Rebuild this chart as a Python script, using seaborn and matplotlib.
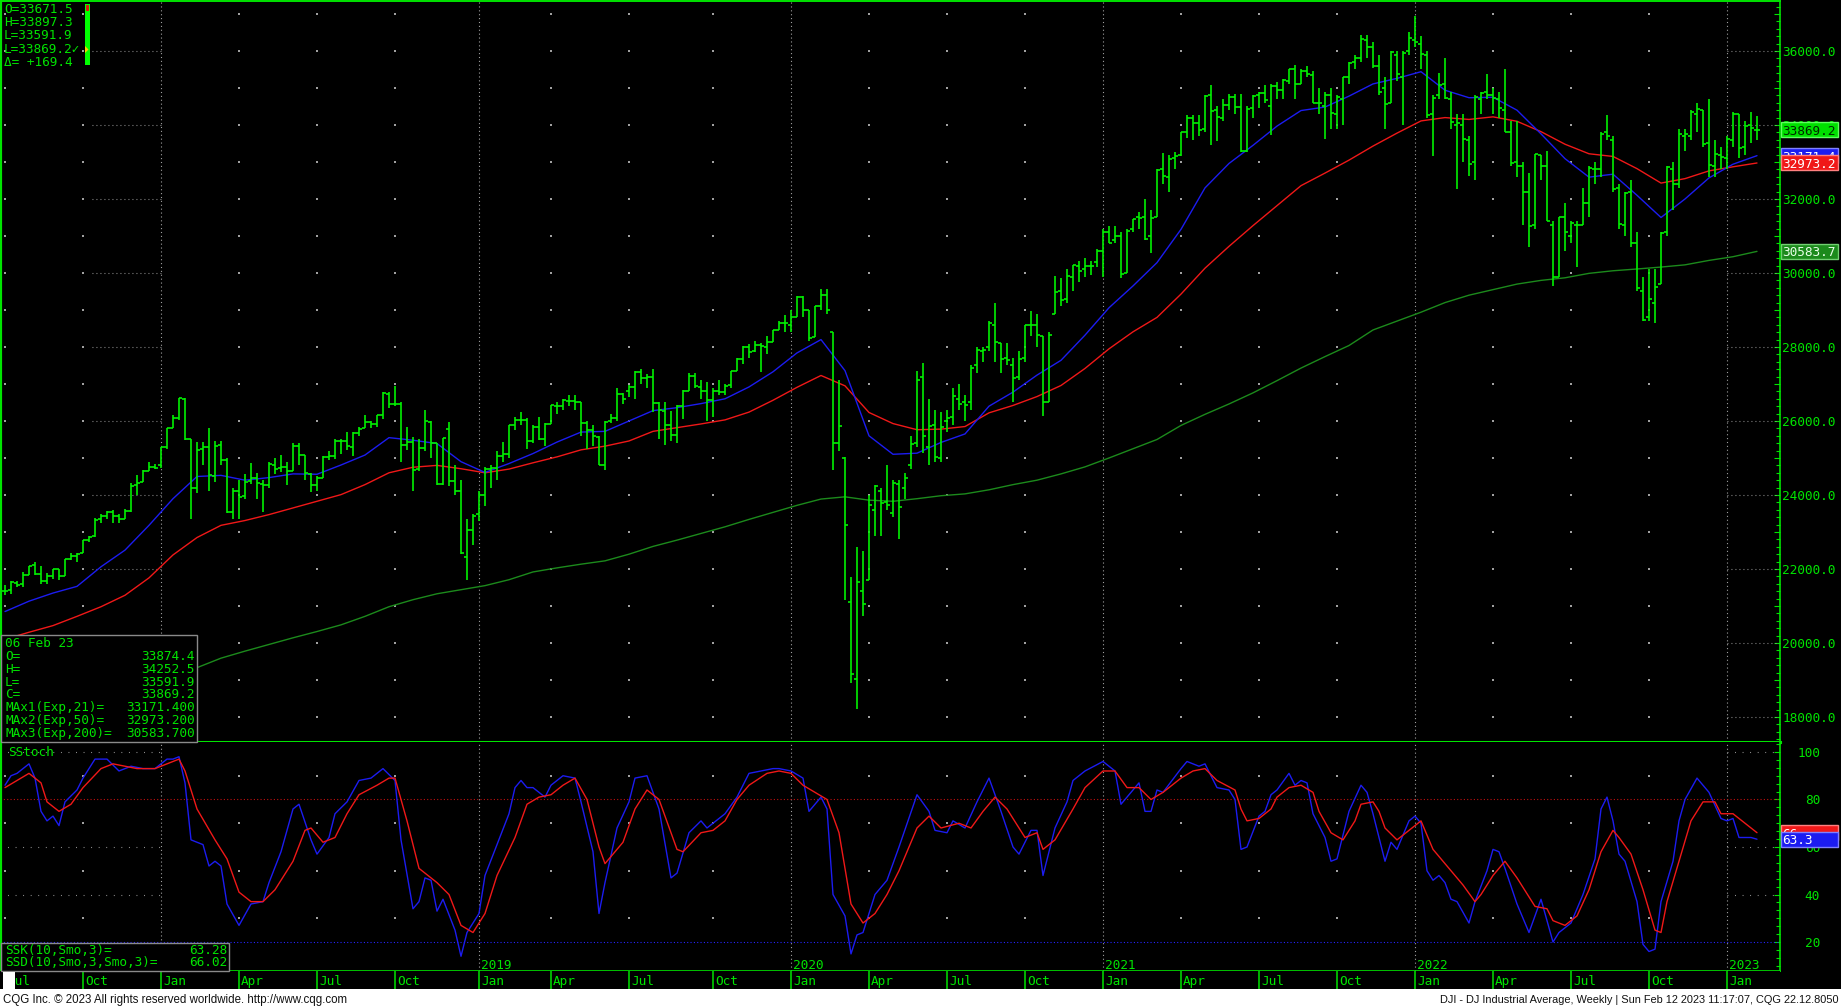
import matplotlib
matplotlib.use("Agg")
import matplotlib.pyplot as plt
import matplotlib.transforms as mtransforms
from matplotlib.patches import Rectangle, Polygon
from matplotlib.ticker import MultipleLocator, FuncFormatter
import numpy as np
import pandas as pd
import seaborn as sns

# -------------------------
# Data: DJI weekly bars, first bar = week of 03 Jul 2017, last = 06 Feb 2023
# -------------------------
first_week = "2017-07-03"

opens = [
    21400, 21420, 21630, 21590, 21840, 22100, 21870, 21680, 21800, 21990,
    21800, 22270, 22350, 22420, 22770, 22880, 23340, 23440, 23540, 23420,
    23360, 23560, 24260, 24350, 24660, 24750, 24810, 25310, 25800, 26090,
    26600, 25520, 24190, 25240, 25300, 24500, 25340, 24950, 23530, 24100,
    23960, 24380, 24460, 24300, 24280, 24810, 24730, 24750, 24650, 25320,
    25090, 24580, 24270, 24460, 25020, 25060, 25450, 25470, 25310, 25670,
    25800, 25960, 25920, 26160, 26740, 26460, 26450, 25340, 25440, 24700,
    25280, 25980, 25400, 24300, 25780, 24390, 24100, 22320, 23060, 23480,
    23990, 24700, 24730, 25060, 25100, 25880, 26040, 26030, 25450, 25850,
    25500, 25930, 26400, 26400, 26550, 26540, 26500, 25950, 25760, 25580,
    24820, 25990, 26090, 26720, 26800, 26920, 27330, 27160, 27200, 26480,
    26280, 25890, 25630, 26400, 26800, 27220, 26930, 26820, 26570, 26820,
    26770, 26960, 27350, 27680, 28000, 27880, 28050, 28010, 28140, 28460,
    28650, 28600, 28820, 29350, 28990, 28260, 29100, 29400, 28400, 25410,
    24990, 21100, 19030, 21400, 21700, 23600, 24100, 23800, 23500, 24300,
    24200, 24800, 25400, 27200, 25300, 25900, 25000, 26000, 26100, 26600,
    26500, 26500, 27500, 27900, 28000, 28600, 28100, 27700, 27500, 27200,
    27700, 28600, 28600, 28300, 26500, 28900, 29500, 29300, 29900, 30200,
    30100, 30200, 30300, 30600, 31100, 30900, 31000, 30000, 31200, 31500,
    31500, 31000, 31500, 32800, 32600, 33100, 33200, 33800, 34200, 34050,
    33900, 34800, 34400, 34200, 34550, 34750, 34480, 33300, 34450, 34800,
    34870, 34500, 35050, 34950, 35200, 35500, 35100, 35450, 35360, 34600,
    34500, 34800, 34300, 34700, 35300, 35700, 35800, 36300, 36100, 35600,
    35000, 34600, 35900, 35300, 36000, 36300, 36200, 35900, 34300, 34800,
    35100, 34700, 34000, 34000, 33600, 33000, 34700, 34900, 34800, 34700,
    34400, 33800, 33000, 32900, 32200, 31300, 33200, 32900, 31300, 29900,
    31500, 31000, 31300, 31300, 31900, 32800, 32800, 33800, 33600, 32300,
    31300, 32200, 30800, 29500, 28800, 29200, 29700, 31100, 32800, 32400,
    33700, 33700, 34300, 34400, 33500, 32900, 33200, 33100, 33600, 34300,
    33400, 34000, 33874,
]

highs = [
    21562, 21681, 21681, 21929, 22092, 22180, 22085, 21900, 22010, 22000,
    22270, 22420, 22420, 22780, 22900, 23370, 23485, 23560, 23600, 23480,
    23620, 24330, 24530, 24670, 24880, 24840, 25300, 25810, 26150, 26617,
    26608, 25520, 25430, 25430, 25800, 25450, 25450, 25000, 24200, 24400,
    24560, 24860, 24600, 24400, 24900, 25000, 25090, 24900, 25400, 25400,
    25090, 24600, 24500, 25050, 25200, 25500, 25500, 25700, 25700, 25850,
    26170, 26010, 26170, 26770, 26770, 26950, 26520, 25850, 25560, 25500,
    26290, 26000, 25400, 25540, 25980, 24800, 24400, 23340, 23480, 24120,
    24750, 24800, 25200, 25440, 25900, 26100, 26240, 26070, 25900, 26110,
    25950, 26440, 26500, 26600, 26700, 26700, 26500, 26000, 25900, 25600,
    26000, 26200, 26900, 26760, 26970, 27340, 27400, 27270, 27400, 26500,
    26500, 26280, 26420, 26850, 27300, 27300, 27100, 27050, 26900, 27100,
    27000, 27350, 27700, 28030, 28090, 28170, 28100, 28290, 28460, 28700,
    28870, 29000, 29370, 29370, 29000, 29120, 29570, 29570, 28400, 27100,
    25020, 21780, 22600, 22480, 24010, 24260, 24200, 24800, 24400, 24400,
    24600, 25600, 27340, 27580, 26600, 26300, 26250, 26300, 26900, 27000,
    26700, 27500, 28000, 28000, 28700, 29200, 28100, 28100, 27700, 27900,
    28600, 28960, 28900, 28300, 28400, 29930, 29860, 30120, 30220, 30320,
    30400, 30330, 30640, 31200, 31270, 31270, 31100, 31200, 31460, 31640,
    32010, 31700, 32800, 33230, 33200, 33260, 33800, 34260, 34260, 34260,
    34810, 35090, 34500, 34700, 34850, 34850, 34850, 34500, 34800, 34900,
    35090, 35100, 35170, 35250, 35520, 35630, 35500, 35600, 35450, 35000,
    34900, 35000, 34800, 35300, 35700, 35900, 36430, 36440, 36250, 35900,
    35300, 36000, 36000, 36000, 36500, 36950, 36400, 36000, 34800, 35400,
    35800, 34900, 34300, 34300, 33700, 34800, 34900, 35370, 35000, 34900,
    35500, 34100, 34100, 33000, 32700, 33220, 33200, 33300, 31400, 31500,
    31900, 31400, 31400, 32300, 32900, 33000, 33800, 34280, 33700, 32400,
    32200, 32500, 31100, 29900, 30100, 30100, 31100, 32900, 33000, 33900,
    33900, 34400, 34600, 34400, 34700, 33600, 33400, 33700, 34350, 34300,
    34100, 34340, 34253,
]

lows = [
    21290, 21320, 21500, 21500, 21830, 21843, 21600, 21600, 21727, 21709,
    21800, 22240, 22200, 22420, 22740, 22860, 23230, 23340, 23240, 23240,
    23350, 23540, 24000, 24340, 24660, 24690, 24740, 25250, 25800, 26040,
    25490, 23360, 24050, 24800, 24120, 24340, 24800, 23510, 23340, 23340,
    23880, 24300, 23900, 23530, 24200, 24580, 24620, 24260, 24640, 24820,
    24400, 24080, 24100, 24450, 24950, 24970, 25120, 25220, 25050, 25600,
    25800, 25800, 25850, 26050, 26350, 26400, 24900, 25220, 24120, 24650,
    25200, 25000, 24270, 24270, 24240, 24000, 22400, 21710, 22640, 23300,
    23700, 24200, 24400, 24880, 25000, 25750, 25880, 25250, 25400, 25480,
    25330, 25930, 26200, 26300, 26400, 26300, 25600, 25230, 25330, 24800,
    24680, 25950, 26010, 26450, 26650, 26600, 27000, 26900, 26250, 25500,
    25340, 25450, 25400, 26050, 26800, 26900, 26600, 26000, 26100, 26700,
    26700, 26900, 27350, 27540, 27700, 27870, 27320, 27800, 28140, 28450,
    28400, 28400, 28800, 28800, 28170, 28260, 29000, 28900, 24680, 25200,
    21150, 18920, 18210, 20740, 21690, 22900, 22900, 23600, 23400, 22800,
    23900, 24700, 25300, 25130, 24800, 24900, 24900, 25700, 25900, 26300,
    26000, 26300, 27300, 27600, 27900, 27600, 27300, 27500, 26500, 27100,
    27600, 28300, 28000, 26140, 26500, 28900, 29100, 29200, 29500, 29750,
    29900, 29950, 30150, 29880, 30800, 30800, 29860, 29990, 31100, 31200,
    30900, 30550, 31500, 32400, 32200, 32800, 33150, 33650, 33600, 33700,
    33800, 33450, 33580, 34100, 34400, 34300, 33270, 33260, 34200, 34450,
    34600, 33740, 34700, 34700, 35100, 34700, 35100, 35300, 34600, 34300,
    33610, 33900, 33900, 34000, 35100, 35500, 35700, 35800, 35550, 34800,
    33900, 34600, 35200, 34000, 35900, 36100, 35500, 34200, 33150, 34700,
    34700, 33900, 32270, 33000, 32630, 32500, 34300, 34700, 34300, 34200,
    33800, 32900, 32600, 31300, 30700, 31200, 32500, 31400, 29650, 29900,
    30600, 30800, 30150, 31300, 31500, 32400, 32600, 33600, 32200, 31200,
    31000, 30700, 29500, 28700, 28700, 28660, 29700, 31000, 31700, 32300,
    33300, 33600, 33800, 33400, 32600, 32600, 32800, 32800, 33400, 33100,
    33200, 33500, 33592,
]

closes = [
    21414, 21638, 21580, 21830, 22092, 21858, 21675, 21814, 21988, 21798,
    22268, 22350, 22405, 22774, 22871, 23329, 23434, 23539, 23422, 23358,
    23558, 24232, 24329, 24652, 24754, 24719, 25296, 25803, 26072, 26617,
    25521, 24191, 25219, 25310, 24539, 25336, 24947, 23533, 24103, 23933,
    24360, 24463, 24311, 24263, 24831, 24715, 24753, 24635, 25317, 25090,
    24581, 24271, 24456, 25019, 25058, 25451, 25463, 25313, 25669, 25790,
    25965, 25917, 26155, 26744, 26458, 26447, 25340, 25444, 24688, 25271,
    25989, 25413, 24286, 25538, 24389, 24101, 22445, 23062, 23433, 23996,
    24706, 24737, 25064, 25106, 25883, 26031, 26026, 25450, 25849, 25502,
    25929, 26425, 26412, 26559, 26543, 26505, 25942, 25764, 25586, 24815,
    25984, 26090, 26719, 26600, 26922, 27332, 27154, 27192, 26485, 26287,
    25886, 25629, 26403, 26797, 27220, 26935, 26820, 26573, 26817, 26770,
    26958, 27347, 27681, 28005, 27876, 28051, 28015, 28135, 28455, 28645,
    28635, 28823, 29348, 28990, 28256, 29103, 29398, 28992, 25409, 25865,
    23186, 19174, 21637, 21053, 23719, 24242, 23775, 23724, 24331, 23685,
    24465, 25383, 27111, 25606, 25871, 25016, 25827, 26075, 26672, 26470,
    26428, 27433, 27931, 27930, 28654, 28133, 27666, 27657, 27174, 27683,
    28586, 28606, 28336, 26502, 28323, 29480, 29263, 29910, 30218, 30046,
    30179, 30200, 30606, 31098, 30814, 30997, 29983, 31148, 31458, 31494,
    30932, 31496, 32779, 32628, 33073, 33153, 33801, 34200, 34043, 33875,
    34778, 34382, 34208, 34529, 34756, 34480, 33290, 34434, 34786, 34870,
    34688, 35062, 34935, 35209, 35515, 35120, 35456, 35369, 34607, 34584,
    34798, 34326, 34746, 35295, 35677, 35820, 36328, 36100, 35602, 34899,
    34580, 35971, 35365, 35951, 36338, 36231, 35912, 34265, 34725, 35089,
    34738, 34079, 34059, 33615, 32945, 34755, 34861, 34818, 34721, 34451,
    33811, 32977, 32899, 32197, 31262, 33213, 32900, 31393, 29888, 31501,
    31097, 31338, 31288, 31899, 32845, 32803, 33761, 33706, 32283, 31318,
    32151, 30822, 29590, 28725, 29297, 29634, 31082, 32861, 32403, 33748,
    33746, 34347, 34430, 33476, 32920, 33204, 33147, 33631, 34303, 33375,
    33978, 33926, 33869,
]

# moving averages, read every 4th week
ma_step = 4
ema21 = [
    20850, 21130, 21350, 21530, 22060, 22510, 23180, 23900, 24500, 24530,
    24400, 24470, 24570, 24560, 24810, 25080, 25550, 25480, 25390, 24900,
    24610, 24850, 25120, 25430, 25700, 25720, 26000, 26280, 26360, 26470,
    26600, 26920, 27330, 27840, 28200, 27360, 25600, 25100, 25130, 25420,
    25650, 26400, 26780, 27240, 27640, 28320, 29060, 29650, 30280, 31180,
    32300, 32960, 33450, 33970, 34390, 34485, 34780, 35110, 35260, 35440,
    34940, 34737, 34750, 34400, 33760, 33090, 32590, 32670, 32100, 31500,
    32000, 32570, 32940, 33171,
]
ema50 = [
    20100, 20290, 20470, 20720, 20980, 21290, 21760, 22380, 22850, 23180,
    23310, 23470, 23650, 23830, 24010, 24280, 24600, 24750, 24800, 24710,
    24600, 24700, 24870, 25030, 25220, 25320, 25460, 25720, 25820, 25920,
    26030, 26240, 26560, 26910, 27230, 26950, 26230, 25930, 25764, 25780,
    25850, 26220, 26420, 26660, 26960, 27420, 27950, 28410, 28800, 29430,
    30130, 30720, 31280, 31820, 32360, 32700, 33050, 33430, 33780, 34110,
    34200, 34150, 34220, 34100, 33820, 33480, 33222, 33150, 32820, 32430,
    32550, 32760, 32870, 32973,
]
ema200 = [
    17900, 18090, 18280, 18470, 18650, 18830, 19000, 19170, 19333, 19590,
    19780, 19960, 20140, 20310, 20490, 20720, 20980, 21170, 21330, 21440,
    21550, 21710, 21920, 22030, 22130, 22220, 22400, 22610, 22780, 22960,
    23140, 23340, 23530, 23720, 23890, 23950, 23860, 23830, 23900, 23980,
    24030, 24140, 24280, 24400, 24570, 24760, 25000, 25250, 25500, 25880,
    26180, 26460, 26760, 27090, 27430, 27740, 28040, 28460, 28700, 28940,
    29200, 29400, 29550, 29700, 29800, 29870, 29990, 30060, 30108, 30160,
    30220, 30340, 30440, 30584,
]

# slow stochastic, (week number, value)
stoch_k_pts = [
    (0, 86), (1, 90), (2, 91), (4, 95), (5, 89), (6, 75), (7, 71), (8, 73), (9, 69), (10, 79),
    (12, 84), (13, 89), (15, 97), (17, 97), (19, 92), (21, 94), (23, 93), (25, 93), (27, 97),
    (28, 97), (29, 98), (30, 87), (31, 63), (33, 61), (34, 52), (35, 54), (36, 52), (37, 36),
    (39, 27), (41, 36), (43, 37), (44, 45), (46, 58), (48, 76), (49, 78), (51, 63), (52, 57),
    (54, 64), (55, 74), (57, 79), (59, 88), (61, 89), (63, 93), (65, 88), (66, 63), (68, 34),
    (69, 37), (70, 47), (71, 46), (72, 33), (73, 38), (75, 25), (76, 14), (77, 24), (79, 32),
    (80, 48), (82, 61), (84, 74), (85, 85), (86, 88), (87, 85), (88, 85), (90, 81), (91, 86),
    (93, 90), (95, 89), (96, 79), (98, 58), (99, 32), (100, 45), (102, 68), (104, 79), (105, 89),
    (107, 90), (109, 76), (111, 47), (112, 49), (114, 66), (116, 71), (117, 68), (120, 74),
    (122, 81), (123, 86), (124, 91), (126, 92), (128, 93), (129, 93), (131, 92), (133, 89),
    (134, 75), (136, 81), (137, 76), (138, 40), (140, 31), (141, 15), (142, 23), (143, 24),
    (145, 40), (147, 46), (149, 60), (152, 82), (154, 75), (155, 67), (157, 66), (158, 71),
    (160, 68), (162, 79), (164, 89), (166, 75), (168, 60), (169, 57), (171, 67), (172, 67),
    (173, 48), (175, 68), (177, 79), (178, 88), (180, 92), (183, 96), (185, 92), (186, 78),
    (189, 87), (190, 75), (191, 75), (192, 84), (193, 83), (196, 93), (197, 96), (199, 94),
    (200, 95), (202, 85), (204, 84), (205, 80), (206, 59), (207, 60), (209, 73), (210, 75),
    (211, 82), (212, 84), (214, 91), (215, 86), (216, 88), (217, 87), (218, 74), (220, 64),
    (221, 54), (222, 55), (224, 75), (226, 86), (227, 83), (228, 74), (230, 54), (231, 62),
    (232, 59), (234, 71), (235, 73), (236, 70), (237, 50), (238, 46), (239, 48), (240, 45),
    (241, 38), (242, 37), (244, 28), (245, 37), (247, 50), (248, 59), (249, 58), (250, 51),
    (252, 36), (254, 24), (256, 38), (258, 20), (259, 24), (261, 28), (263, 40), (265, 55),
    (266, 76), (267, 81), (268, 71), (269, 57), (270, 54), (272, 37), (273, 19), (274, 16),
    (275, 17), (276, 37), (278, 54), (279, 71), (280, 80), (282, 89), (284, 83), (286, 72),
    (287, 71), (288, 72), (289, 64), (291, 64), (292, 63.28),
]
stoch_d_pts = [
    (0, 85), (2, 88), (4, 91), (6, 87), (7, 79), (9, 75), (11, 78), (13, 85), (16, 93), (18, 95),
    (20, 94), (22, 93), (25, 93), (27, 95), (29, 97), (30, 92), (32, 76), (35, 63), (37, 55),
    (39, 41), (41, 37), (43, 37), (45, 42), (48, 54), (50, 67), (51, 68), (53, 62), (55, 64),
    (57, 74), (59, 82), (62, 86), (64, 89), (65, 89), (67, 71), (69, 51), (72, 45), (74, 40),
    (76, 27), (78, 24), (80, 32), (82, 48), (85, 64), (87, 78), (89, 81), (91, 82), (93, 86),
    (95, 89), (97, 80), (99, 60), (100, 53), (103, 62), (105, 76), (107, 84), (109, 80),
    (112, 59), (113, 58), (116, 66), (118, 67), (120, 71), (122, 80), (124, 86), (127, 91),
    (129, 92), (131, 91), (133, 86), (135, 83), (137, 80), (139, 66), (141, 36), (143, 28),
    (145, 32), (147, 40), (149, 50), (152, 68), (154, 73), (156, 68), (159, 70), (161, 68),
    (163, 75), (165, 81), (167, 76), (170, 64), (172, 66), (173, 59), (175, 63), (178, 76),
    (180, 85), (183, 92), (185, 92), (187, 85), (189, 85), (191, 80), (193, 83), (196, 89),
    (198, 92), (200, 93), (202, 88), (205, 84), (206, 76), (207, 71), (209, 72), (211, 76),
    (212, 81), (214, 85), (216, 86), (218, 83), (219, 75), (221, 66), (223, 63), (225, 71),
    (226, 78), (228, 79), (229, 75), (230, 68), (232, 63), (234, 67), (236, 71), (238, 59),
    (240, 53), (243, 44), (245, 37), (246, 40), (248, 48), (250, 54), (252, 47), (255, 35),
    (257, 34), (258, 29), (260, 27), (262, 31), (264, 42), (266, 58), (268, 67), (269, 64),
    (271, 57), (273, 42), (275, 25), (276, 24), (277, 37), (279, 54), (281, 71), (283, 79),
    (285, 79), (286, 74), (288, 74), (290, 70), (292, 66.02),
]

# texts
last_day = ["O=33671.5", "H=33897.3", "L=33591.9", "L=33869.2\u2713", "\u0394= +169.4"]
info_rows = [
    ("06 Feb 23", ""), ("O=", "33874.4"), ("H=", "34252.5"), ("L=", "33591.9"),
    ("C=", "33869.2"), ("MAx1(Exp,21)=", "33171.400"), ("MAx2(Exp,50)=", "32973.200"),
    ("MAx3(Exp,200)=", "30583.700"),
]
stoch_rows = [("SSK(10,Smo,3)=", "63.28"), ("SSD(10,Smo,3,Smo,3)=", "66.02")]
stoch_levels = [100, 80, 60, 40, 20]
footer_left = "CQG Inc. \u00a9 2023 All rights reserved worldwide. http://www.cqg.com"
footer_right = "DJI - DJ Industrial Average, Weekly | Sun Feb 12 2023 11:17:07, CQG 22.12.8050"

# -------------------------
# Style
# -------------------------
W, H = 1841, 1008
GREEN = "#00e400"
BAR = "#00f000"
GREY = "#a0a0a0"
BLUE = "#1c1cf0"
RED = "#f01818"
DKGREEN = "#1c8a1c"
MONO = ["DejaVu Sans Mono", "DejaVu Sans"]
FS = 9.2

sns.set_theme(style="dark", rc={"axes.facecolor": "black", "figure.facecolor": "white",
                                "axes.grid": False})
plt.rcParams["font.family"] = MONO

fig = plt.figure(figsize=(W / 100, H / 100), dpi=100)


def fx(px):
    return px / W


def fy(py):
    return 1 - py / H


fig.add_artist(Rectangle((0, fy(989)), 1, 989 / H, transform=fig.transFigure,
                         facecolor="black", edgecolor="none", zorder=-10))

ax = fig.add_axes([0, fy(742), fx(1780), 741 / H])
axs = fig.add_axes([0, fy(971), fx(1780), (971 - 742) / H])
axx = fig.add_axes([0, fy(989), fx(1780), (989 - 971) / H])

weeks = pd.date_range(first_week, periods=len(closes), freq="W-MON")
idx = np.arange(len(closes))
quarters = [i for i, d in enumerate(weeks)
            if d.month in (1, 4, 7, 10) and (i == 0 or weeks[i - 1].month != d.month)]
years = [i for i in quarters if weeks[i].month == 1]
q_other = [i for i in quarters if i not in years]
xlim = (-5 / 6, 1775 / 6)

# -------------------------
# Price panel
# -------------------------
for i in years:
    ax.axvline(i, color=GREY, lw=0.8, ls=(0, (1, 2.5)), zorder=1)
    axs.axvline(i, color=GREY, lw=0.8, ls=(0, (1, 2.5)), zorder=1)

qx, qy = np.meshgrid(q_other, np.arange(18000, 37001, 1000))
ax.scatter(qx.ravel(), qy.ravel(), s=1.3, marker="s", color=GREY, linewidths=0, zorder=1)
rows = np.arange(18000, 37000, 2000)
ax.hlines(rows, 14.5, years[0], colors=GREY, lw=0.8, linestyles=(0, (0.8, 2.8)), zorder=1)
ax.hlines(rows, years[-1], xlim[1], colors=GREY, lw=0.8, linestyles=(0, (0.8, 2.8)), zorder=1)

ma_weeks = idx[::ma_step]
sns.lineplot(x=ma_weeks, y=ema200, ax=ax, color=DKGREEN, linewidth=1.0, errorbar=None, zorder=2)
sns.lineplot(x=ma_weeks, y=ema50, ax=ax, color=RED, linewidth=1.0, errorbar=None, zorder=3)
sns.lineplot(x=ma_weeks, y=ema21, ax=ax, color=BLUE, linewidth=1.0, errorbar=None, zorder=3)

ax.vlines(idx, lows, highs, color=BAR, lw=1.2, zorder=4)
ax.hlines(opens, idx - 0.45, idx, color=BAR, lw=1.2, zorder=4)
ax.hlines(closes, idx, idx + 0.45, color=BAR, lw=1.2, zorder=4)

# -------------------------
# Stochastic panel
# -------------------------
sq_x, sq_y = np.meshgrid(q_other, [90, 70, 50, 30])
axs.scatter(sq_x.ravel(), sq_y.ravel(), s=1.3, marker="s", color=GREY, linewidths=0, zorder=1)
for lo, hi in ((xlim[0], years[0]), (years[-1], xlim[1])):
    axs.hlines([100, 60, 40], lo, hi, colors=GREY, lw=0.8, linestyles=(0, (0.8, 6)), zorder=1)
axs.axhline(80, color="#c01010", lw=0.8, ls=(0, (1, 2)), zorder=1)
axs.axhline(20, color="#2424ff", lw=0.8, ls=(0, (1, 2)), zorder=1)

k_w, k_v = zip(*stoch_k_pts)
d_w, d_v = zip(*stoch_d_pts)
sns.lineplot(x=list(k_w), y=list(k_v), ax=axs, color=BLUE, linewidth=1.0, errorbar=None, zorder=3)
sns.lineplot(x=list(d_w), y=list(d_v), ax=axs, color=RED, linewidth=1.0, errorbar=None, zorder=3)

# -------------------------
# Axes cosmetics
# -------------------------
for a in (ax, axs, axx):
    a.set_facecolor("black")
    a.set_xlim(*xlim)
    a.grid(False)
    a.set_xlabel("")
    a.set_ylabel("")
    a.tick_params(axis="x", bottom=False, labelbottom=False, top=False)
    for s in a.spines.values():
        s.set_visible(False)

ax.set_ylim(17324, 37351)
axs.set_ylim(7.8, 104.2)
axx.set_ylim(0, 1)
axx.set_yticks([])

for a, sides in ((ax, {"top": 1.4, "left": 3.0, "right": 1.2, "bottom": 2.2}),
                 (axs, {"left": 3.0, "right": 1.2, "bottom": 1.2})):
    for side, lw in sides.items():
        a.spines[side].set_visible(True)
        a.spines[side].set_color(GREEN)
        a.spines[side].set_linewidth(lw)

ax.yaxis.tick_right()
ax.yaxis.set_major_locator(MultipleLocator(1000))
ax.yaxis.set_minor_locator(MultipleLocator(200))
ax.yaxis.set_major_formatter(FuncFormatter(lambda v, p: f"{v:.1f}" if v % 2000 == 0 else ""))
ax.tick_params(axis="y", which="both", direction="in", colors=GREEN, right=True, left=False,
               labelright=True, labelleft=False)
ax.tick_params(axis="y", which="major", length=4.3, width=0.8, pad=1.5, labelsize=FS)
ax.tick_params(axis="y", which="minor", length=2.8, width=0.8)

axs.yaxis.tick_right()
axs.yaxis.set_major_locator(MultipleLocator(20))
axs.yaxis.set_minor_locator(MultipleLocator(10 / 3))
axs.tick_params(axis="y", which="both", direction="in", colors=GREEN, right=True, left=False,
                labelright=False, labelleft=False)
axs.tick_params(axis="y", which="major", length=4.3, width=0.8)
axs.tick_params(axis="y", which="minor", length=2.8, width=0.8)

stoch_tr = mtransforms.blended_transform_factory(fig.transFigure, axs.transData)
for v in stoch_levels:
    fig.text(fx(1820), v, str(v), transform=stoch_tr, color=GREEN, fontsize=FS,
             ha="right", va="center_baseline", zorder=3)


def ftext(x, y, s, **kw):
    # y is the text baseline in pixels from the top
    kw.setdefault("color", GREEN)
    kw.setdefault("fontsize", FS)
    kw.setdefault("va", "baseline")
    z = kw.pop("zorder", 8)
    return fig.text(fx(x), fy(y), s, zorder=z, **kw)


# year labels inside the stochastic panel, month strip below
for i in years:
    ftext(5 + 6 * i + 2, 969, str(weeks[i].year), zorder=2)
axx.vlines(quarters, 0, 1, color=GREEN, lw=1.1)
for i in quarters:
    ftext(5 + 6 * i + 2, 985, weeks[i].strftime("%b"), zorder=2)


# -------------------------
# Overlays: value tags and info boxes
# -------------------------
def tag(axis, value, label, face, edge, txt, z):
    tr = mtransforms.blended_transform_factory(fig.transFigure, axis.transData)
    lo, hi = axis.get_ylim()
    half = 7.5 * (hi - lo) / (axis.get_position().height * H)
    fig.add_artist(Rectangle((fx(1780.5), value - half), fx(1838) - fx(1780.5), 2 * half,
                             transform=tr, facecolor=face, edgecolor=edge, linewidth=1.0,
                             zorder=z))
    fig.text(fx(1782.5), value, label, transform=tr, color=txt, fontsize=FS,
             va="center_baseline", ha="left", zorder=z + 0.5)


tag(ax, closes[-1], "33869.2", "#00e000", "#60ff60", "#002800", 10)
tag(ax, ema21[-1], "33171.4", BLUE, "#8080ff", "white", 11)
tag(ax, ema50[-1], "32973.2", RED, "#ff8080", "white", 12)
tag(ax, ema200[-1], "30583.7", DKGREEN, "#70d070", "#e8ffe8", 10)
tag(axs, stoch_d_pts[-1][1], "66", RED, "#ff8080", "white", 10)
tag(axs, stoch_k_pts[-1][1], "63.3", BLUE, "#8080ff", "white", 11)

for k, line in enumerate(last_day):
    ftext(4, 13 + 13.2 * k, line)
fig.add_artist(Rectangle((fx(85), fy(65)), fx(5), 61 / H, transform=fig.transFigure,
                         facecolor="#00ff00", edgecolor="none", zorder=7))
fig.add_artist(Rectangle((fx(86), fy(11)), fx(3), 6 / H, transform=fig.transFigure,
                         facecolor="#e01010", edgecolor="none", zorder=7.5))
fig.add_artist(Polygon([[fx(85), fy(46)], [fx(85), fy(53)], [fx(88.5), fy(49.5)]],
                       closed=True, transform=fig.transFigure, facecolor="#ffd000",
                       edgecolor="none", zorder=7.5))

fig.add_artist(Rectangle((fx(0.5), fy(742)), fx(196.5), (742 - 635) / H, transform=fig.transFigure,
                         facecolor="black", edgecolor="#8a8a8a", linewidth=1.0, zorder=7))
for (left, right), y in zip(info_rows, [647, 660, 673, 686, 698, 711, 724, 737]):
    ftext(5, y, left)
    if right:
        ftext(195, y, right, ha="right")

ftext(8, 756.5, "SStoch")
fig.add_artist(Rectangle((fx(0.5), fy(971)), fx(228.5), (971 - 943) / H, transform=fig.transFigure,
                         facecolor="black", edgecolor="#8a8a8a", linewidth=1.0, zorder=7))
for (left, right), y in zip(stoch_rows, [954, 966.5]):
    ftext(5, y, left)
    ftext(227, y, right, ha="right")

fig.add_artist(Rectangle((fx(3), fy(989)), fx(12), 17 / H, transform=fig.transFigure,
                         facecolor="white", edgecolor="none", zorder=9))

fig.text(fx(3), fy(1000), footer_left, family="Liberation Sans", fontsize=8.3,
         color="#111111", va="center", ha="left")
fig.text(fx(1839), fy(1000), footer_right, family="Liberation Sans", fontsize=7.9,
         color="#111111", va="center", ha="right")

fig.savefig("out.png", dpi=100, facecolor="white")
